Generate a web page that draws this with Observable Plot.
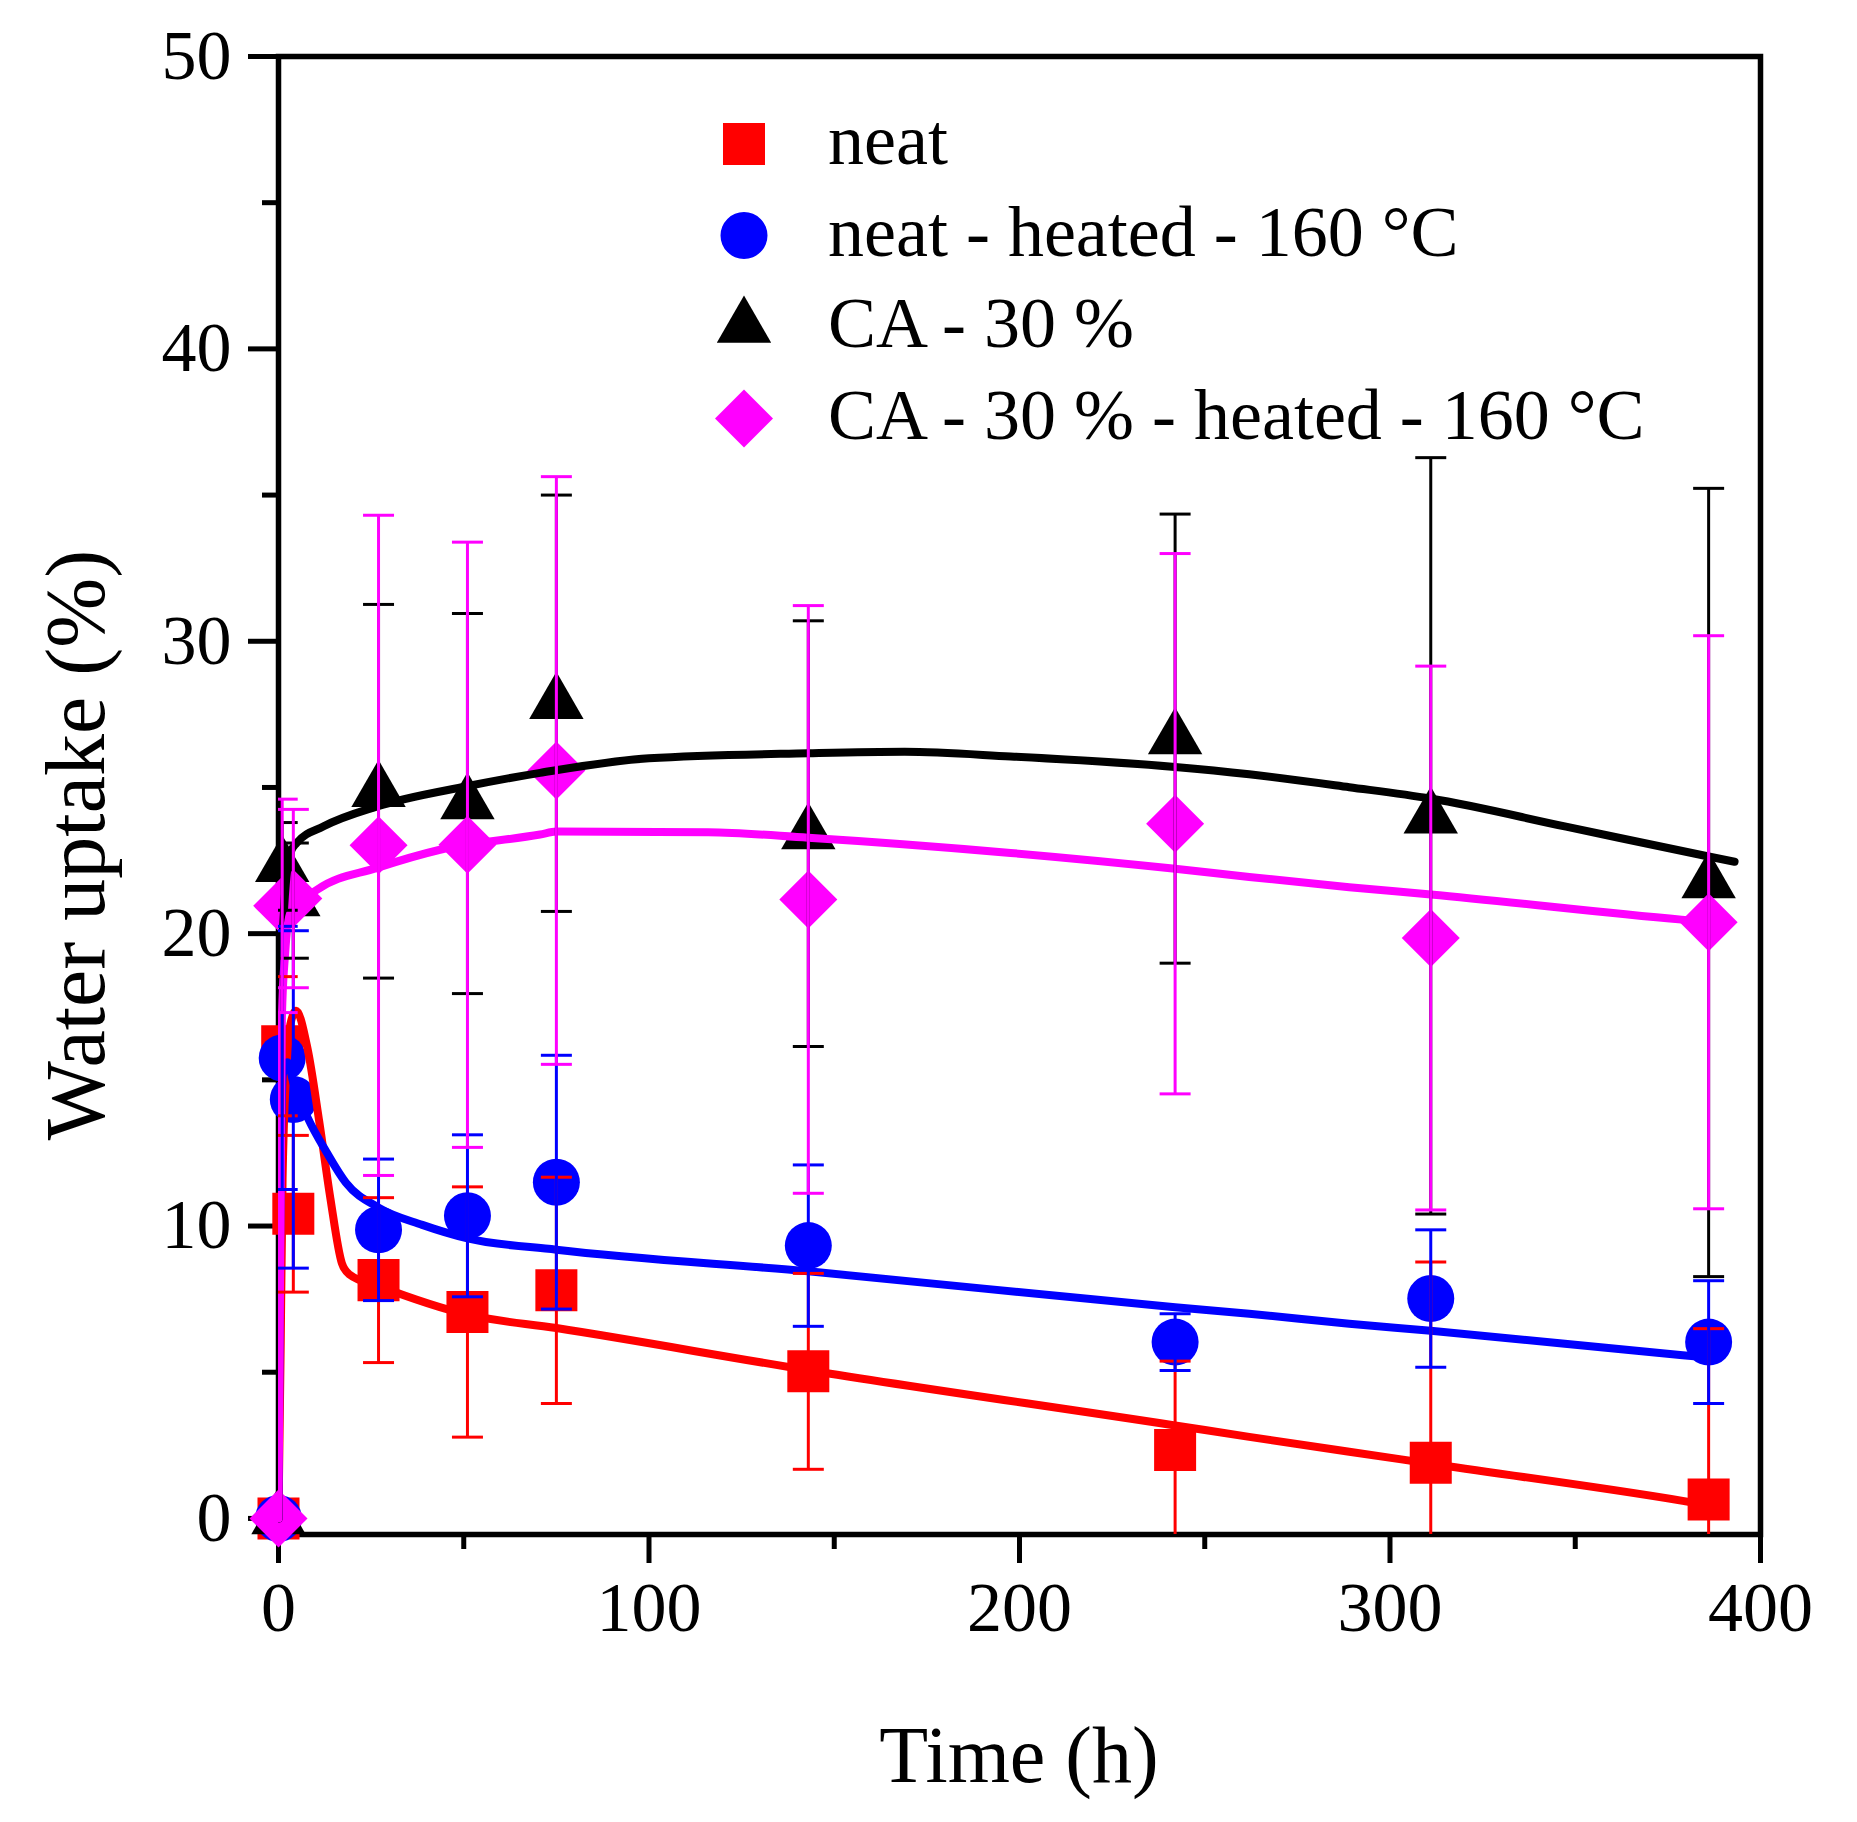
<!DOCTYPE html>
<html>
<head>
<meta charset="utf-8">
<script src="https://cdn.jsdelivr.net/npm/d3@7"></script>
<script src="https://cdn.jsdelivr.net/npm/@observablehq/plot@0.6"></script>
<style>
  body { margin: 0; background: #fff; }
  #chart svg { display: block; }
</style>
</head>
<body>
<div id="chart"></div>
<script>
// sampling times (h), shared by the four series
const timeH = [0, 1, 4, 27, 51, 75, 143, 242, 311, 386]

// measured water uptake (%) and error bars (down / up)
const neat = [0, 16.15, 10.42, 8.15, 7.06, 7.8, 5.03, 2.34, 1.9, 0.65]
const neatErrDown = [0, 2.38, 2.68, 2.82, 4.28, 3.87, 3.35, 3.04, 6.87, 5.84]
const neatErrUp = [0, 2.38, 2.68, 2.82, 4.28, 3.87, 3.35, 3.04, 6.87, 5.84]

const neatHeated = [0, 15.75, 14.33, 9.87, 10.35, 11.5, 9.33, 6.03, 7.52, 6.03]
const neatHeatedErrDown = [0, 4.5, 5.77, 2.42, 2.77, 4.34, 2.76, 0.97, 2.35, 2.1]
const neatHeatedErrUp = [0, 4.5, 5.77, 2.42, 2.77, 4.34, 2.76, 0.97, 2.35, 2.1]

const ca30 = [0, 22.3, 21.13, 24.87, 24.45, 27.88, 23.42, 26.67, 23.96, 21.75]
const ca30ErrDown = [0, 1.5, 1.97, 6.39, 6.5, 7.12, 7.28, 7.68, 13.55, 13.48]
const ca30ErrUp = [0, 1.5, 1.97, 6.39, 6.5, 7.12, 7.28, 7.68, 12.32, 13.48]

const ca30Heated = [0, 20.95, 21.2, 23.02, 23.04, 25.58, 21.17, 23.76, 19.85, 20.39]
const ca30HeatedErrDown = [0, 3.65, 3.05, 11.29, 10.35, 10.05, 10.05, 9.24, 9.3, 9.8]
const ca30HeatedErrUp = [0, 3.65, 3.05, 11.29, 10.35, 10.05, 10.05, 9.24, 9.3, 9.8]

// fitted curves
const neatFitT = [0, 0.6, 1.1, 2.2, 3.2, 4.75, 7.85, 11, 14, 17.1, 19.2, 27, 51, 75, 143, 242, 262, 289, 311, 379, 386]
const neatFitV = [0, 6, 11.6, 15.5, 16.9, 17.36, 16.06, 13.57, 10.95, 8.73, 8.34, 7.95, 6.97, 6.51, 5.07, 3.18, 2.79, 2.28, 1.87, 0.6, 0.45]

const neatHeatedFitT = [0, 0.4, 1.2, 2.5, 4, 7.9, 13, 18.2, 27, 38.8, 51, 75, 143, 242, 262, 289, 311, 379, 386]
const neatHeatedFitV = [0, 9, 15.2, 15.6, 14.9, 13.7, 12.52, 11.48, 10.63, 10.04, 9.58, 9.19, 8.45, 7.22, 7.0, 6.66, 6.42, 5.58, 5.5]

const ca30FitT = [0, 0.46, 1.35, 3.16, 4.9, 12.2, 26.6, 50.8, 70.6, 100, 143, 169, 197.6, 242, 262, 289, 311, 347.5, 386, 393]
const ca30FitV = [0, 17.06, 20.48, 22.76, 23.1, 23.67, 24.35, 25.04, 25.5, 26.0, 26.17, 26.22, 26.06, 25.7, 25.45, 25.01, 24.62, 23.66, 22.64, 22.46]

const ca30HeatedFitT = [0, 0.9, 1.8, 3.2, 10.4, 26.6, 43.6, 70.6, 75, 116, 143, 197.6, 242, 262, 289, 311, 378.7, 386]
const ca30HeatedFitV = [0, 17.06, 19.34, 20.71, 21.5, 22.25, 22.87, 23.39, 23.49, 23.47, 23.28, 22.76, 22.22, 21.94, 21.59, 21.34, 20.48, 20.4]

const yTicks = [0, 10, 20, 30, 40, 50]
const yMinor = [5, 15, 25, 35, 45]
const xTicks = [0, 100, 200, 300, 400]
const xMinor = [50, 150, 250, 350]

// rotated square, like Origin's diamond
const diamond = {draw(ctx) { const h = 29; ctx.moveTo(0, -h); ctx.lineTo(h, 0); ctx.lineTo(0, h); ctx.lineTo(-h, 0); ctx.closePath() }}
const cap = {draw(ctx) { ctx.moveTo(-15.5, 0); ctx.lineTo(15.5, 0) }}

const series = [
  {name: "neat", color: "#ff0000", symbol: "square", r: 23.7, v: neat, lo: neatErrDown, hi: neatErrUp, fitT: neatFitT, fitV: neatFitV},
  {name: "neat - heated - 160 °C", color: "#0000ff", symbol: "circle", r: 23.5, v: neatHeated, lo: neatHeatedErrDown, hi: neatHeatedErrUp, fitT: neatHeatedFitT, fitV: neatHeatedFitV},
  {name: "CA - 30 %", color: "#000000", symbol: "triangle", r: 20.2, v: ca30, lo: ca30ErrDown, hi: ca30ErrUp, fitT: ca30FitT, fitV: ca30FitV},
  {name: "CA - 30 % - heated - 160 °C", color: "#ff00ff", symbol: diamond, r: 23, v: ca30Heated, lo: ca30HeatedErrDown, hi: ca30HeatedErrUp, fitT: ca30HeatedFitT, fitV: ca30HeatedFitV}
]

const points = s => timeH.map((t, i) => ({t, v: s.v[i], y1: s.v[i] - s.lo[i], y2: s.v[i] + s.hi[i], err: s.lo[i] + s.hi[i]}))
const fit = s => s.fitT.map((t, i) => ({t, v: s.fitV[i]}))

const markerMarks = series.map(s =>
  Plot.dot(points(s), {x: "t", y: "v", symbol: s.symbol, r: s.r, fill: s.color, stroke: "none"}))
const curveMarks = series.map(s =>
  Plot.line(fit(s), {x: "t", y: "v", stroke: s.color, strokeWidth: 8, curve: "monotone-x", clip: true}))
const barMarks = series.flatMap(s => {
  const bars = points(s).filter(d => d.err > 0)
  return [
    Plot.ruleX(bars, {x: "t", y1: "y1", y2: "y2", stroke: s.color, strokeWidth: 3, clip: true}),
    Plot.dot(bars, {x: "t", y: "y2", symbol: cap, fill: "none", stroke: s.color, strokeWidth: 3, clip: true}),
    Plot.dot(bars, {x: "t", y: "y1", symbol: cap, fill: "none", stroke: s.color, strokeWidth: 3, clip: true})
  ]
})

const chart = Plot.plot({
  width: 1857,
  height: 1822,
  marginLeft: 278,
  marginRight: 97,
  marginTop: 56,
  marginBottom: 288,
  style: {fontFamily: "'Liberation Serif', 'Times New Roman', serif", background: "white", color: "black"},
  x: {domain: [0, 400]},
  y: {domain: [-0.55, 50]},
  marks: [
    Plot.frame({stroke: "black", strokeWidth: 5.5}),
    Plot.axisY({ticks: yTicks, tickSize: 30, tickPadding: 17, strokeWidth: 5, fontSize: 70, label: null}),
    Plot.axisY({ticks: yMinor, tickSize: 16, strokeWidth: 5, tickFormat: () => "", label: null}),
    Plot.axisX({ticks: xTicks, tickSize: 29, tickPadding: 18, strokeWidth: 5, fontSize: 70, label: null}),
    Plot.axisX({ticks: xMinor, tickSize: 15, strokeWidth: 5, tickFormat: () => "", label: null}),
    ...markerMarks,
    ...curveMarks,
    ...barMarks
  ]
})

d3.select('#chart').append(() => chart)

// axis titles and legend
const svg = d3.select(chart)
svg.append("text")
  .attr("x", 1019).attr("y", 1782)
  .attr("text-anchor", "middle")
  .style("font-family", "'Liberation Serif', serif").style("font-size", "80px")
  .attr("fill", "black")
  .text("Time (h)")
svg.append("text")
  .attr("transform", "translate(104,845) rotate(-90)")
  .attr("text-anchor", "middle")
  .style("font-family", "'Liberation Serif', serif").style("font-size", "84px")
  .attr("fill", "black")
  .text("Water uptake (%)")

const symbolTypes = {square: d3.symbolSquare, circle: d3.symbolCircle, triangle: d3.symbolTriangle}
const legend = svg.append("g").attr("text-anchor", "start")
series.forEach((s, i) => {
  const base = 164 + i * 91.5
  const type = typeof s.symbol === "string" ? symbolTypes[s.symbol] : s.symbol
  legend.append("path")
    .attr("transform", `translate(744,${base - 20})`)
    .attr("d", d3.symbol(type, Math.PI * s.r * s.r)())
    .attr("fill", s.color)
  legend.append("text")
    .attr("x", 828).attr("y", base)
    .attr("text-anchor", "start")
    .style("font-family", "'Liberation Serif', serif").style("font-size", "72px")
    .attr("fill", "black")
    .text(s.name)
})
</script>
</body>
</html>
